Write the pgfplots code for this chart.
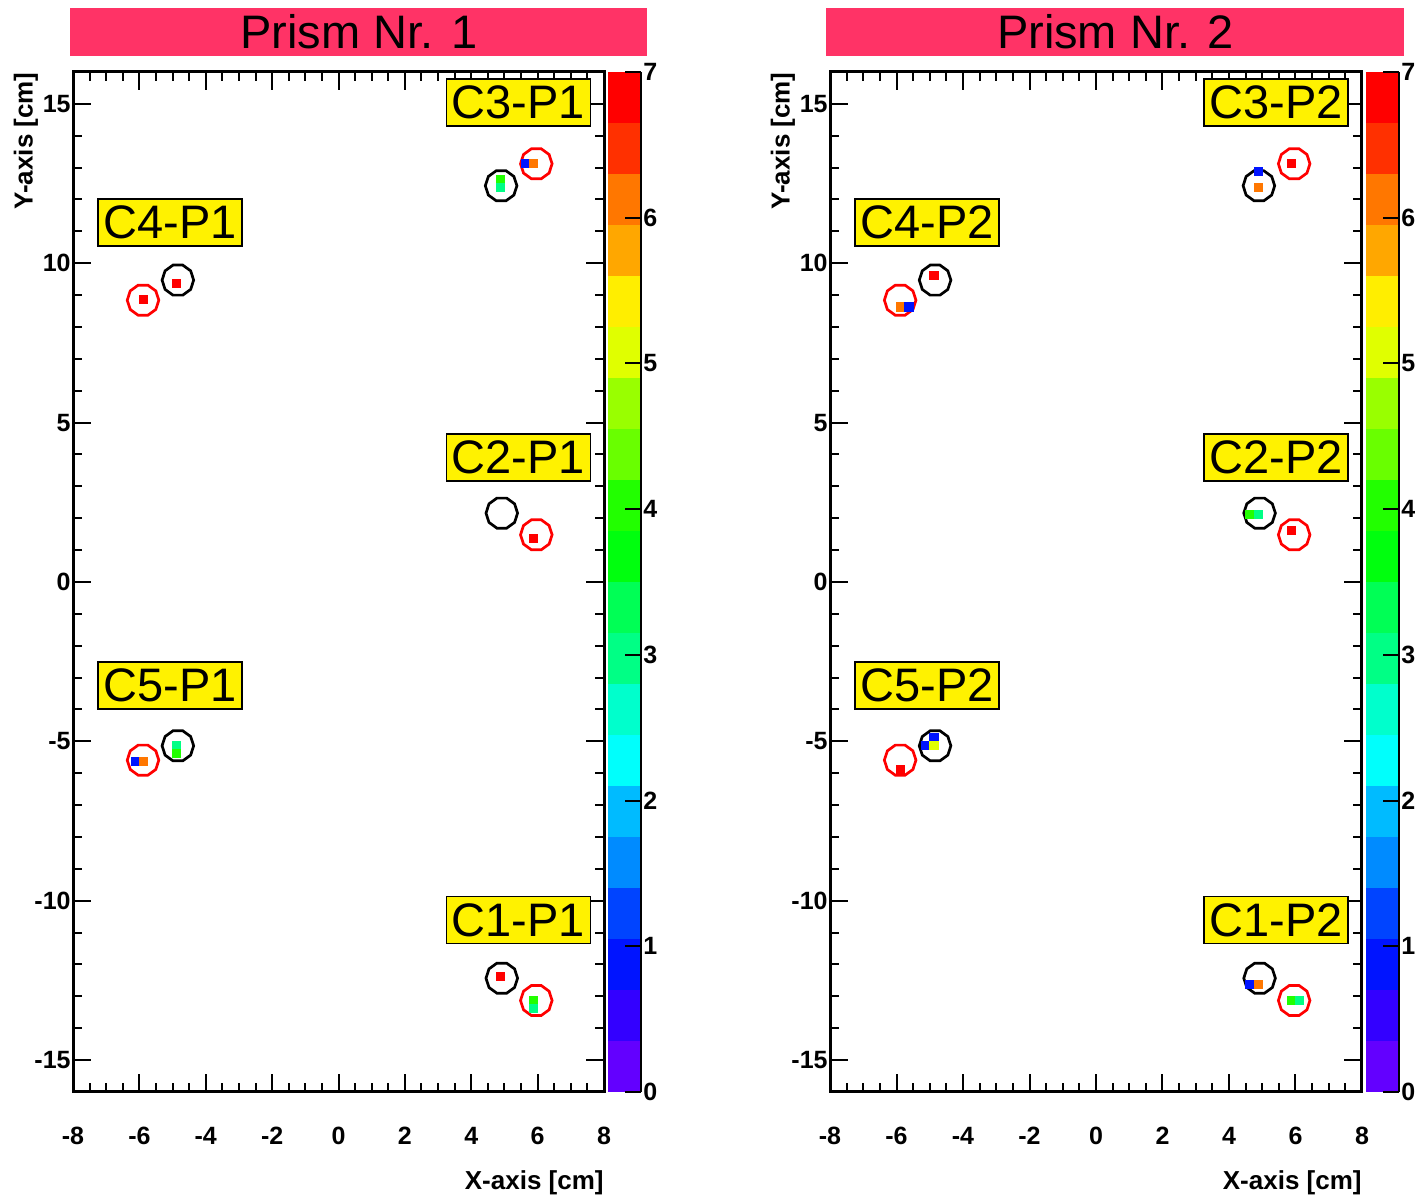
\documentclass[border=0pt]{standalone}
\usepackage{fontspec}
\setmainfont{Liberation Sans}
\usepackage{pgfplots}
\usepackage{pgfplotstable}
\pgfplotsset{compat=1.18}

\definecolor{titlepink}{RGB}{255,51,102}

\pgfdeclareplotmark{decagon}{%
  \pgfpathmoveto{\pgfpointpolar{0}{\pgfplotmarksize}}%
  \pgfpathlineto{\pgfpointpolar{36}{\pgfplotmarksize}}%
  \pgfpathlineto{\pgfpointpolar{72}{\pgfplotmarksize}}%
  \pgfpathlineto{\pgfpointpolar{108}{\pgfplotmarksize}}%
  \pgfpathlineto{\pgfpointpolar{144}{\pgfplotmarksize}}%
  \pgfpathlineto{\pgfpointpolar{180}{\pgfplotmarksize}}%
  \pgfpathlineto{\pgfpointpolar{216}{\pgfplotmarksize}}%
  \pgfpathlineto{\pgfpointpolar{252}{\pgfplotmarksize}}%
  \pgfpathlineto{\pgfpointpolar{288}{\pgfplotmarksize}}%
  \pgfpathlineto{\pgfpointpolar{324}{\pgfplotmarksize}}%
  \pgfpathclose
  \pgfusepathqstroke
}

\pgfplotsset{
  colormap={rootpal}{
    rgb255=(99,0,255) rgb255=(51,0,255) rgb255=(0,20,255) rgb255=(0,68,255)
    rgb255=(0,139,255) rgb255=(0,187,255) rgb255=(0,255,252) rgb255=(0,255,204)
    rgb255=(0,255,133) rgb255=(0,255,85) rgb255=(0,255,14) rgb255=(34,255,0)
    rgb255=(105,255,0) rgb255=(153,255,0) rgb255=(224,255,0) rgb255=(255,238,0)
    rgb255=(255,167,0) rgb255=(255,119,0) rgb255=(255,48,0) rgb255=(255,0,0)
  },
  prismaxis/.style={
    anchor=south west,
    scale only axis, width=265.5pt, height=510pt,
    xmin=-8, xmax=8, ymin=-16, ymax=16,
    xtick={-8,-6,...,8}, xticklabels={-8,-6,-4,-2,0,2,4,6,8},
    ytick={-15,-10,...,15}, yticklabels={-15,-10,-5,0,5,10,15},
    minor x tick num=3, minor y tick num=4,
    tick align=inside, major tick length=9pt, minor tick length=4.5pt,
    tick style={line width=1pt, black},
    axis line style={line width=1.5pt},
    ticklabel style={font=\bfseries\fontsize{12.5}{12.5}\selectfont},
    xticklabel style={yshift=-14pt},
    yticklabel style={inner xsep=1pt},
    colormap name=rootpal, colormap access=piecewise constant,
    point meta min=0, point meta max=7,
    colorbar,
    colorbar style={
      at={(parent axis.north east)}, anchor=north west, xshift=-6.5pt,
      scale only axis, width=16.5pt,
      ytick={0,...,7}, yticklabels={0,1,2,3,4,5,6,7},
      yticklabel style={font=\bfseries\fontsize{12.5}{12.5}\selectfont, inner xsep=1pt},
      tick align=inside, major tick length=8pt,
      tick style={line width=1pt, black},
      axis x line=none, axis y line*=right,
      axis line style={line width=1.2pt},
    },
    clip=false,
  },
  hits/.style={scatter, only marks, mark=square*, mark size=2.08pt,
    point meta=explicit,
    scatter/use mapped color={draw=mapped color, fill=mapped color}},
  blackring/.style={only marks, mark=decagon, mark size=7.9pt, black,
    mark options={line width=1.35pt}},
  redring/.style={only marks, mark=decagon, mark size=7.9pt, red,
    mark options={line width=1.35pt}},
}

\tikzset{lbl/.style={fill=yellow, draw=black, line width=0.75pt,
  minimum width=72pt, minimum height=23.5pt, inner sep=0pt,
  font=\fontsize{23.5}{23.5}\selectfont}}

\pgfplotstableread{
x y c
5.625 13.125 0.9
5.875 13.125 6.1
4.875 12.625 4.0
4.875 12.375 3.0
-4.875 9.375 6.9
-5.875 8.875 6.9
-6.125 -5.625 0.9
-5.875 -5.625 6.1
-4.875 -5.125 3.0
-4.875 -5.375 4.0
5.875 1.375 6.9
4.875 -12.375 6.9
5.875 -13.125 4.0
5.875 -13.375 3.0
}\hitsA

\pgfplotstableread{
x y c
5.875 13.125 6.9
4.875 12.875 0.9
4.875 12.375 6.1
-4.875 9.625 6.9
-5.875 8.625 6.1
-5.625 8.625 0.9
-4.875 -4.875 0.9
-5.125 -5.125 0.9
-4.875 -5.125 5.1
-5.875 -5.875 6.9
4.625 2.125 4.0
4.875 2.125 3.0
5.875 1.625 6.9
4.625 -12.625 0.9
4.875 -12.625 6.1
5.875 -13.125 4.0
6.125 -13.125 3.0
}\hitsB

\pgfplotstableread{
x y
4.90 12.43
-4.84 9.47
4.92 2.16
-4.84 -5.14
4.92 -12.43
}\blackrings

\pgfplotstableread{
x y
5.96 13.12
-5.89 8.84
5.96 1.48
-5.89 -5.59
5.96 -13.13
}\redrings

\begin{document}
\begin{tikzpicture}
% ---------------- Prism 1 ----------------
\begin{axis}[prismaxis, at={(36.5pt,55pt)}]
  \addplot[blackring] table[x=x,y=y] {\blackrings};
  \addplot[redring] table[x=x,y=y] {\redrings};
  \addplot[hits] table[x=x,y=y,meta=c] {\hitsA};
  \node[lbl] at (axis cs:5.42,15.05) {C3-P1};
  \node[lbl] at (axis cs:-5.08,11.28) {C4-P1};
  \node[lbl] at (axis cs:5.42,3.90) {C2-P1};
  \node[lbl] at (axis cs:-5.08,-3.24) {C5-P1};
  \node[lbl] at (axis cs:5.42,-10.60) {C1-P1};
\end{axis}
% ---------------- Prism 2 ----------------
\begin{axis}[prismaxis, at={(415pt,55pt)}, width=266pt]
  \addplot[blackring] table[x=x,y=y] {\blackrings};
  \addplot[redring] table[x=x,y=y] {\redrings};
  \addplot[hits] table[x=x,y=y,meta=c] {\hitsB};
  \node[lbl] at (axis cs:5.42,15.05) {C3-P2};
  \node[lbl] at (axis cs:-5.08,11.28) {C4-P2};
  \node[lbl] at (axis cs:5.42,3.90) {C2-P2};
  \node[lbl] at (axis cs:-5.08,-3.24) {C5-P2};
  \node[lbl] at (axis cs:5.42,-10.60) {C1-P2};
\end{axis}
% titles
\node[fill=titlepink, minimum width=288.5pt, minimum height=24pt, inner sep=0pt,
  anchor=south west, font=\fontsize{23.5}{23.5}\selectfont] at (35pt,573pt) {Prism Nr. 1};
\node[fill=titlepink, minimum width=289pt, minimum height=24pt, inner sep=0pt,
  anchor=south west, font=\fontsize{23.5}{23.5}\selectfont] at (413pt,573pt) {Prism Nr. 2};
% axis titles
\node[anchor=east, inner sep=0pt, font=\bfseries\fontsize{13}{13}\selectfont] at (302pt,9.5pt) {X-axis [cm]};
\node[anchor=east, inner sep=0pt, font=\bfseries\fontsize{13}{13}\selectfont] at (681pt,9.5pt) {X-axis [cm]};
\node[rotate=90, anchor=east, inner sep=0pt, font=\bfseries\fontsize{13}{13}\selectfont] at (13pt,565pt) {Y-axis [cm]};
\node[rotate=90, anchor=east, inner sep=0pt, font=\bfseries\fontsize{13}{13}\selectfont] at (391.5pt,565pt) {Y-axis [cm]};
\pgfresetboundingbox
\path[use as bounding box] (0,0) rectangle (707.5pt,601pt);
\end{tikzpicture}
\end{document}
